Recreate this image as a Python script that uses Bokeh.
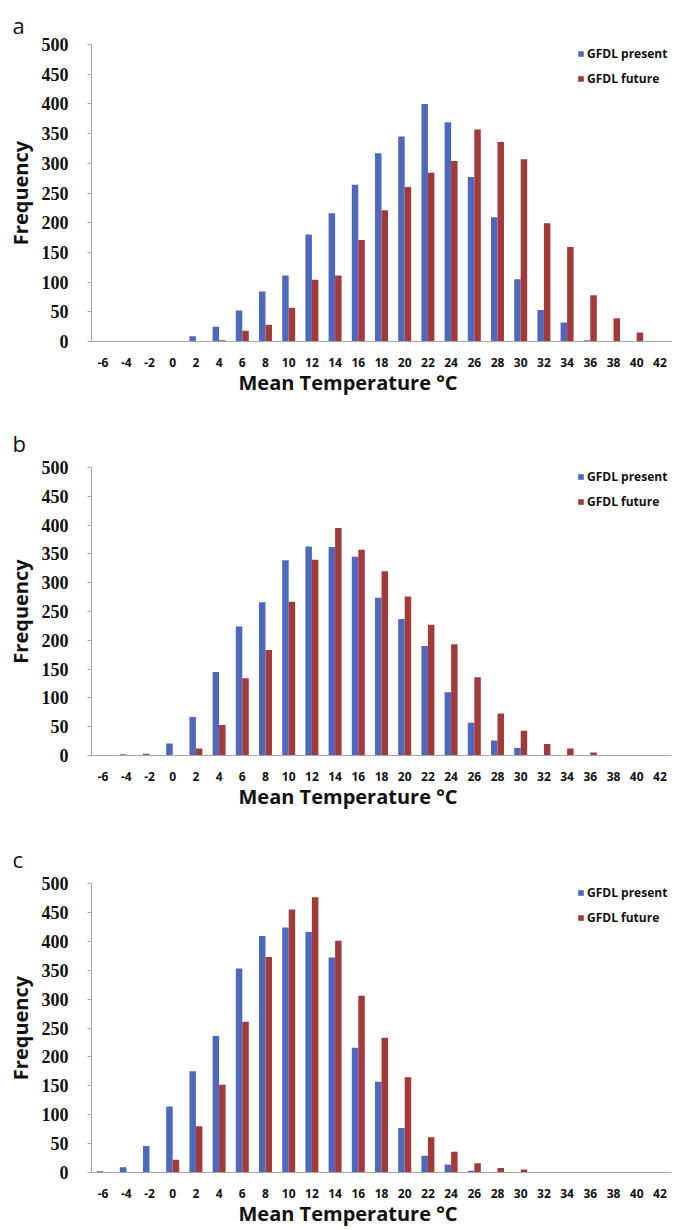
from bokeh.plotting import figure
from bokeh.layouts import column
from bokeh.models import FactorRange, Range1d, Legend, LegendItem, FixedTicker, Title
from bokeh.transform import dodge
from bokeh.embed import file_html
from bokeh.resources import INLINE

temps = ["-6", "-4", "-2", "0", "2", "4", "6", "8", "10", "12", "14", "16", "18",
         "20", "22", "24", "26", "28", "30", "32", "34", "36", "38", "40", "42"]

a_present = [0, 0, 0, 0, 9, 25, 52, 84, 111, 180, 216, 264, 317, 345, 400, 369, 277, 209, 105, 53, 32, 2, 0, 0, 0]
a_future = [0, 0, 0, 0, 0, 2, 18, 28, 57, 104, 111, 171, 221, 260, 284, 304, 357, 336, 307, 199, 159, 78, 39, 15, 0]

b_present = [0, 2, 3, 21, 67, 145, 224, 266, 339, 363, 362, 345, 274, 237, 190, 110, 57, 26, 13, 0, 0, 0, 0, 0, 0]
b_future = [0, 0, 0, 0, 12, 53, 134, 183, 267, 340, 395, 357, 320, 276, 227, 193, 136, 73, 43, 20, 12, 5, 0, 1, 0]

c_present = [2, 9, 46, 114, 175, 236, 353, 409, 424, 416, 372, 216, 157, 77, 29, 14, 3, 0, 0, 0, 0, 0, 0, 0, 0]
c_future = [0, 0, 0, 22, 80, 152, 261, 373, 455, 476, 401, 306, 233, 165, 61, 36, 16, 8, 5, 1, 0, 0, 0, 0, 0]

series_names = ["GFDL present", "GFDL future"]
panel_letters = ["a", "b", "c"]
x_title = "Mean Temperature \u00b0C"
y_title = "Frequency"

BLUE = "#4d68bd"
RED = "#a23a3a"
AXIS_GREY = "#a6a6a6"
TXT = "#111111"
FONT = "Open Sans"
NARROW = "Liberation Sans Narrow"


def make_panel(letter, present, future, top, bottom, frame_h, letter_standoff):
    p = figure(x_range=FactorRange(*temps, range_padding=0), y_range=Range1d(0, 500),
               width=676, height=top + frame_h + bottom,
               output_backend="svg", toolbar_location=None,
               min_border_left=91, min_border_right=5,
               min_border_top=top, min_border_bottom=bottom)
    data = dict(t=temps, present=present, future=future)
    r1 = p.vbar(x=dodge("t", -0.14, range=p.x_range), top="present", width=0.28,
                source=data, color=BLUE, line_color=None)
    r2 = p.vbar(x=dodge("t", 0.14, range=p.x_range), top="future", width=0.28,
                source=data, color=RED, line_color=None)

    p.outline_line_color = None
    p.xgrid.grid_line_color = None
    p.ygrid.grid_line_color = None

    p.yaxis.ticker = FixedTicker(ticks=list(range(0, 501, 50)))
    p.yaxis.minor_tick_line_color = None
    p.yaxis.axis_line_color = AXIS_GREY
    p.yaxis.major_tick_line_color = AXIS_GREY
    p.yaxis.major_tick_out = 4
    p.yaxis.major_tick_in = 0
    p.yaxis.major_label_standoff = 19
    p.yaxis.major_label_text_font = NARROW
    p.yaxis.major_label_text_font_style = "bold"
    p.yaxis.major_label_text_font_size = "18px"
    p.yaxis.major_label_text_color = TXT
    p.yaxis.axis_label = y_title
    p.yaxis.axis_label_text_font = FONT
    p.yaxis.axis_label_text_font_style = "bold"
    p.yaxis.axis_label_text_font_size = "20px"
    p.yaxis.axis_label_text_color = TXT
    p.yaxis.axis_label_standoff = 5

    p.xaxis.axis_line_color = AXIS_GREY
    p.xaxis.major_tick_line_color = None
    p.xaxis.major_tick_out = 0
    p.xaxis.major_tick_in = 0
    p.xaxis.major_label_standoff = 16
    p.xaxis.major_label_text_font = FONT
    p.xaxis.major_label_text_font_style = "bold"
    p.xaxis.major_label_text_font_size = "12px"
    p.xaxis.major_label_text_color = TXT

    xt = Title(text=x_title, align="left", offset=147, standoff=-5,
               text_font=FONT, text_font_style="bold", text_font_size="20px",
               text_color=TXT)
    p.add_layout(xt, "below")

    p.title.text = letter
    p.title.text_font = FONT
    p.title.text_font_style = "normal"
    p.title.text_font_size = "22px"
    p.title.text_color = TXT
    p.title.align = "left"
    p.title.offset = -79
    p.title.standoff = letter_standoff

    legend = Legend(items=[LegendItem(label=series_names[0], renderers=[r1]),
                           LegendItem(label=series_names[1], renderers=[r2])],
                    location=(486, frame_h - 43))
    legend.border_line_color = None
    legend.background_fill_alpha = 0
    legend.label_text_font = FONT
    legend.label_text_font_style = "bold"
    legend.label_text_font_size = "12px"
    legend.label_text_color = TXT
    legend.glyph_width = 7
    legend.glyph_height = 7
    legend.label_standoff = 3
    legend.label_height = 14
    legend.spacing = 8
    legend.padding = 0
    legend.margin = 0
    p.add_layout(legend)
    return p


pa = make_panel(panel_letters[0], a_present, a_future, 44, 72, 297, 10)
pb = make_panel(panel_letters[1], b_present, b_future, 54, 75, 288, 20)
pc = make_panel(panel_letters[2], c_present, c_future, 53, 56, 289, 19)

layout = column(pa, pb, pc, spacing=0)
open("out.html", "w").write(file_html(layout, INLINE))
